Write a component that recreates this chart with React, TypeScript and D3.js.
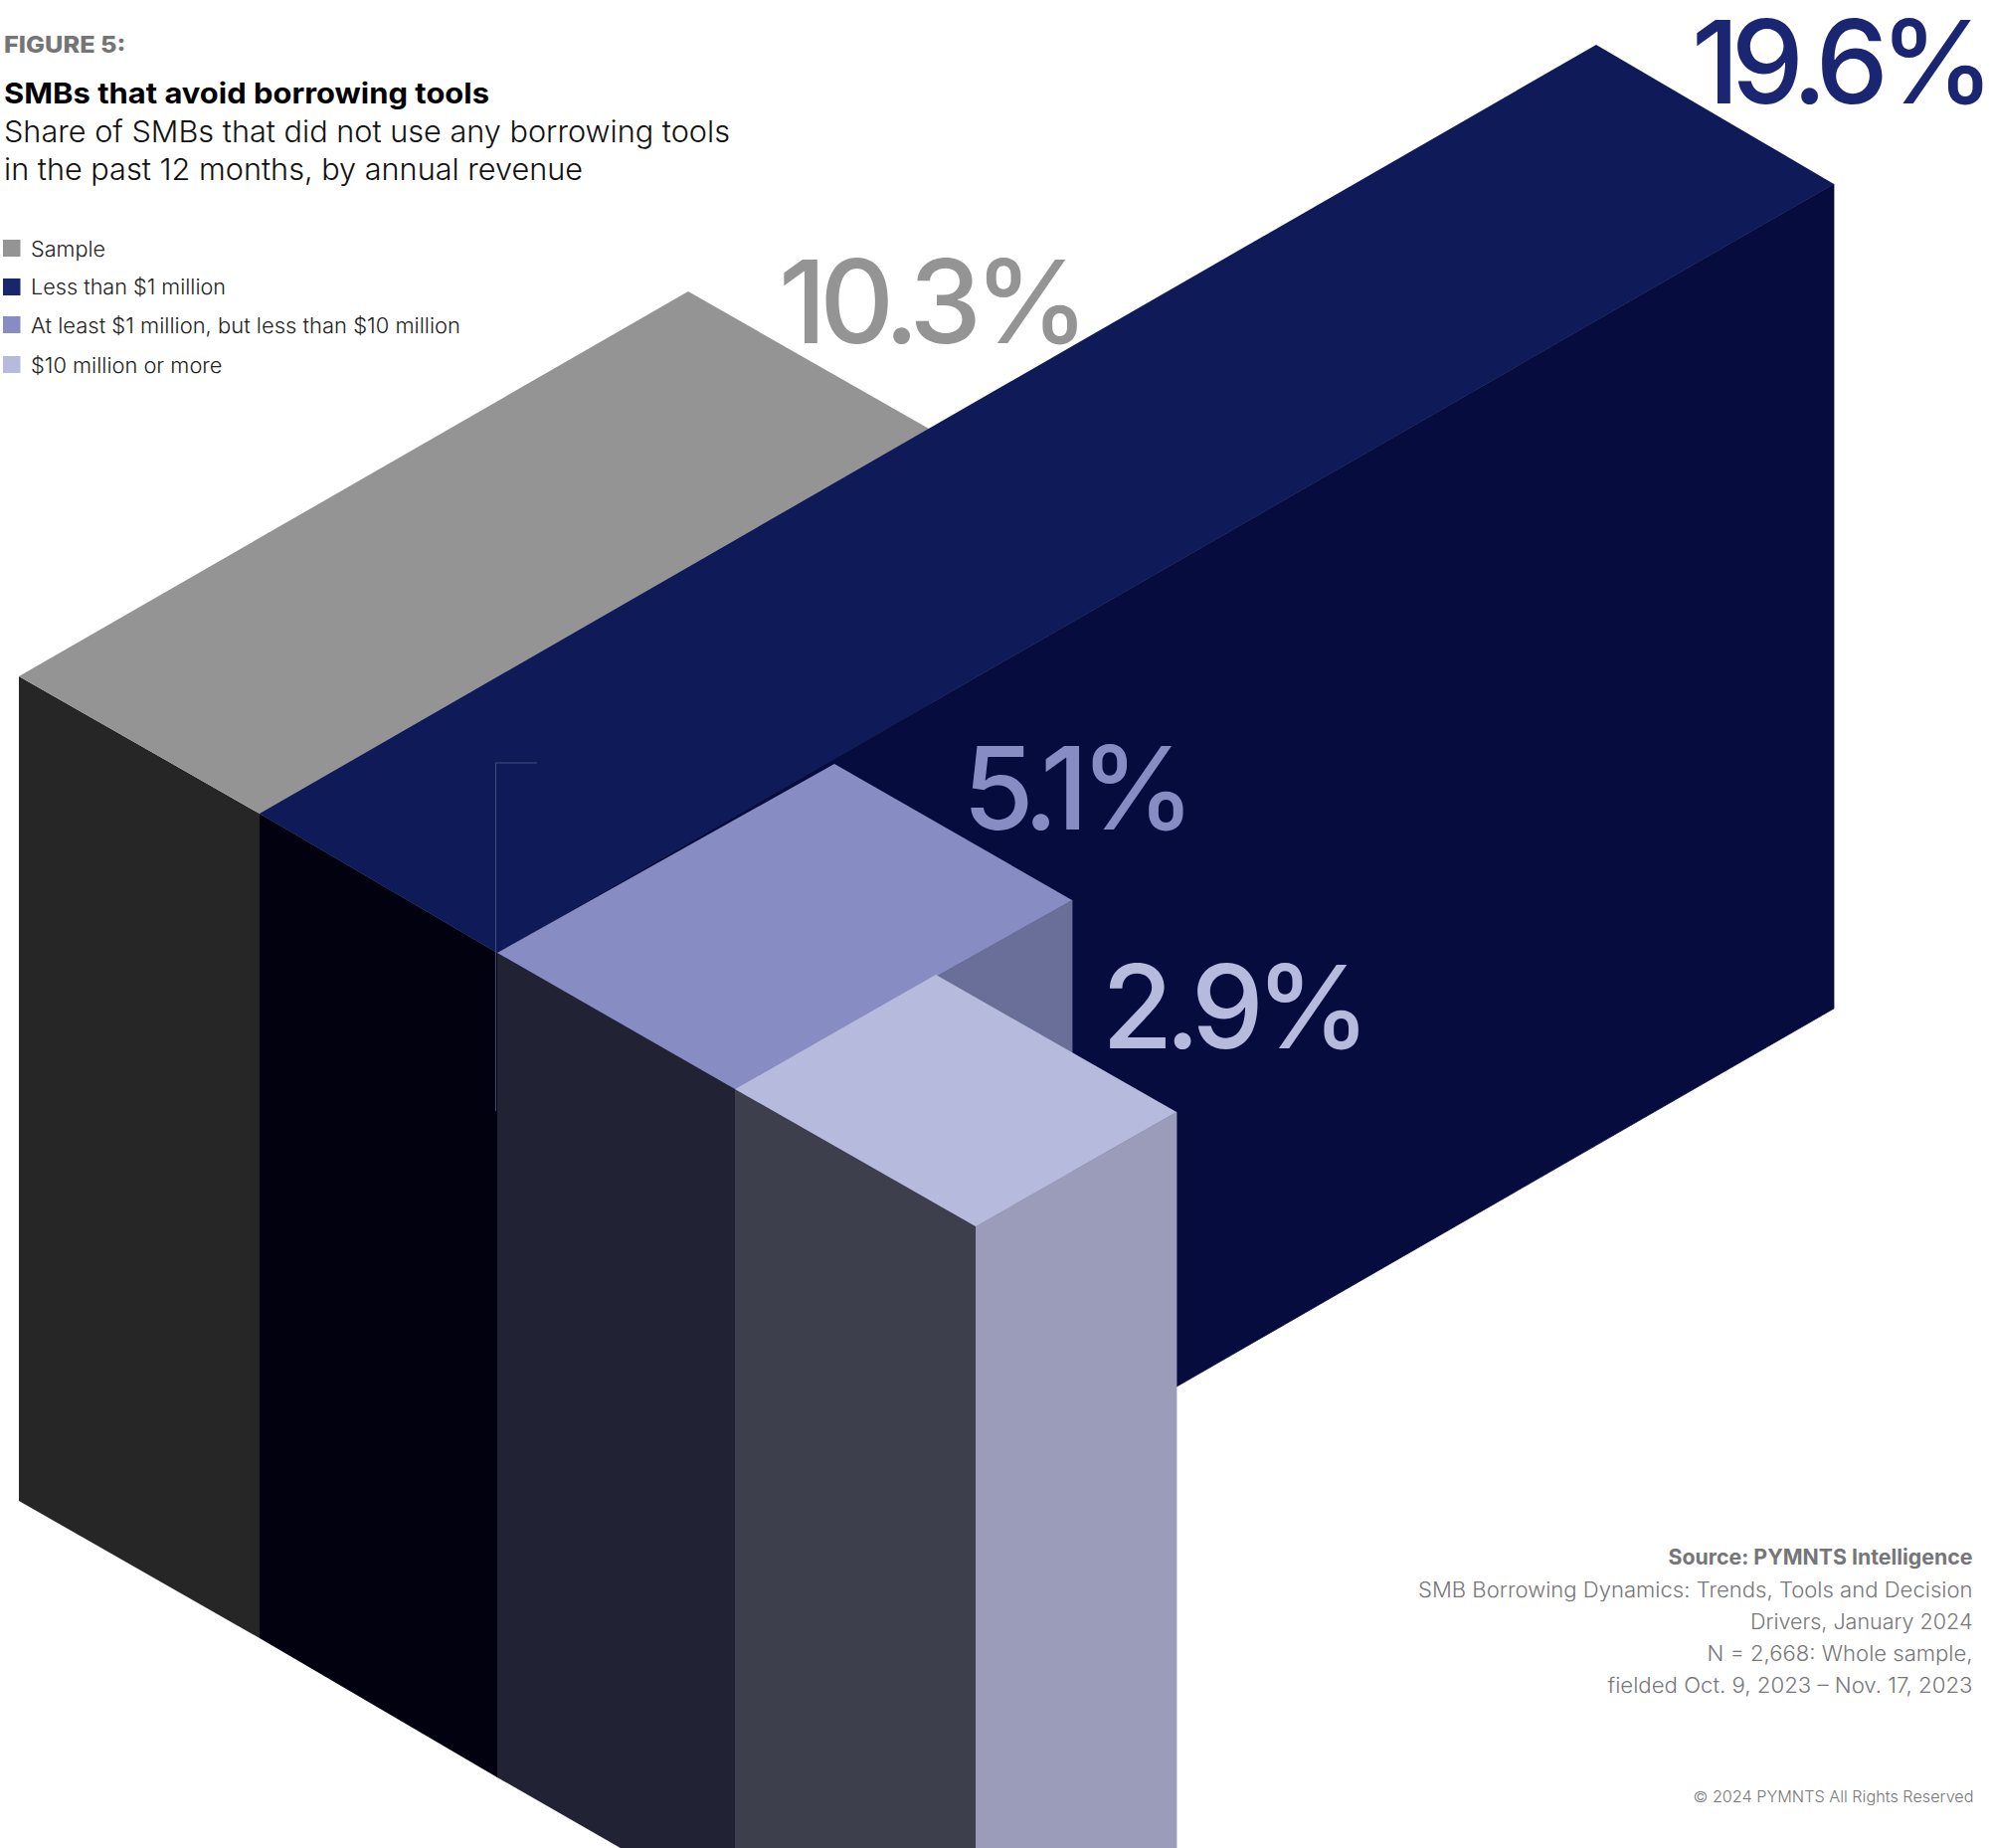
import React from "react";
import * as d3 from "d3";

// Revenue bands and the share of SMBs in each that used no borrowing tools.
const categories = [
  "Sample",
  "Less than $1 million",
  "At least $1 million, but less than $10 million",
  "$10 million or more",
];
const shares = [10.3, 19.6, 5.1, 2.9];

const figureLabel = "FIGURE 5:";
const titleLine = "SMBs that avoid borrowing tools";
const subtitleLines = [
  "Share of SMBs that did not use any borrowing tools",
  "in the past 12 months, by annual revenue",
];
const sourceHeading = "Source: PYMNTS Intelligence";
const sourceLines = [
  "SMB Borrowing Dynamics: Trends, Tools and Decision",
  "Drivers, January 2024",
  "N = 2,668: Whole sample,",
  "fielded Oct. 9, 2023 – Nov. 17, 2023",
];
const copyrightLine = "© 2024 PYMNTS All Rights Reserved";

// Face shades of each block, in category order.
const topShades = ["#949494", "#0f1a58", "#878dc2", "#b6bbdd"];
const leftShades = ["#262626", "#01010f", "#212334", "#3e3f4c"];
const rightShades = ["#8a8a8a", "#060c3e", "#6a6f99", "#9a9cba"];
const keyShades = ["#949494", "#1a2570", "#878dc2", "#b6bbdd"];
const labelShades = ["#949494", "#1b2672", "#878dc2", "#b6bbdd"];

const WIDTH = 2003;
const HEIGHT = 1858;
const SANS = "Inter, 'Noto Sans', sans-serif";

// Oblique projection: blocks step down-right along the category axis,
// run up-right along the value axis, and drop straight down by a fixed extrusion.
const slots = [0, 1, 2, 3, 4];
const slotX = d3.scaleLinear().domain(slots).range([19, 261, 500, 739, 981]);
const slotY = d3.scaleLinear().domain(slots).range([680, 818, 958, 1095, 1233]);
const runX = d3.scaleLinear().domain([0, 2.9, 5.1, 10.3, 19.6]).range([0, 202, 339, 673, 1344]);
const runY = d3.scaleLinear().domain([0, 2.9, 5.1, 10.3, 19.6]).range([0, 115, 190, 387, 773]);
const EXTRUSION = 829;

const polygon = d3.line<[number, number]>().curve(d3.curveLinearClosed);

function blockFaces(i: number) {
  const value = shares[i];
  const frontLeft: [number, number] = [slotX(i), slotY(i)];
  const frontRight: [number, number] = [slotX(i + 1), slotY(i + 1)];
  const backLeft: [number, number] = [frontLeft[0] + runX(value), frontLeft[1] - runY(value)];
  const backRight: [number, number] = [frontRight[0] + runX(value), frontRight[1] - runY(value)];
  const drop = (p: [number, number]): [number, number] => [p[0], p[1] + EXTRUSION];
  return {
    top: polygon([frontLeft, backLeft, backRight, frontRight]),
    left: polygon([frontLeft, frontRight, drop(frontRight), drop(frontLeft)]),
    right: polygon([frontRight, backRight, drop(backRight), drop(frontRight)]),
  };
}

// Left edge, baseline and tracking of each large value label.
const valueLabelAnchors = [
  { x: 783, y: 345, tracking: -7 },
  { x: 1701, y: 104, tracking: -8.5 },
  { x: 968, y: 834, tracking: -7.8 },
  { x: 1108, y: 1054, tracking: -8 },
];
const formatShare = (v: number) => `${d3.format(".1f")(v)}%`;

const legendRows = [
  { y: 241, baseline: 257.5, end: 106 },
  { y: 280, baseline: 296, end: 227 },
  { y: 318, baseline: 334.5, end: 463 },
  { y: 358, baseline: 375, end: 223.5 },
];

const sourceBaselines = [1606, 1638, 1670, 1702];
const sourceStarts = [1426, 1760, 1716.5, 1616.5];

export default function App() {
  return (
    <svg
      width={WIDTH}
      height={HEIGHT}
      viewBox={`0 0 ${WIDTH} ${HEIGHT}`}
      style={{ position: "absolute", left: 0, top: 0, display: "block", background: "#fff" }}
    >
      {/* Blocks, painted back to front; side faces carry a hair of stroke to close seams */}
      {categories.map((name, i) => {
        const faces = blockFaces(i);
        return (
          <g key={name}>
            <path d={faces.right!} fill={rightShades[i]} stroke={rightShades[i]} strokeWidth={0.8} />
            <path d={faces.left!} fill={leftShades[i]} />
            <path d={faces.top!} fill={topShades[i]} />
          </g>
        );
      })}

      {/* Hairline left on the navy block */}
      <path
        d={`M${slotX(2) - 1.5},1117V767H540`}
        fill="none"
        stroke="#454c80"
        strokeWidth={1}
      />

      {/* Value labels */}
      {shares.map((v, i) => (
        <text
          key={categories[i]}
          x={valueLabelAnchors[i].x}
          y={valueLabelAnchors[i].y}
          fontFamily={SANS}
          fontSize={116}
          fontWeight={530}
          letterSpacing={valueLabelAnchors[i].tracking}
          fill={labelShades[i]}
        >
          {formatShare(v)}
        </text>
      ))}

      {/* Heading */}
      <text x={4} y={53} textLength={122.5} lengthAdjust="spacingAndGlyphs" fontFamily={SANS} fontSize={23} fontWeight={800} fill="#757575">
        {figureLabel}
      </text>
      <text x={4} y={104} textLength={488} lengthAdjust="spacingAndGlyphs" fontFamily={SANS} fontSize={29} fontWeight={700} fill="#000">
        {titleLine}
      </text>
      {subtitleLines.map((line, i) => (
        <text
          key={line}
          x={4}
          y={142.5 + i * 38}
          textLength={i === 0 ? 730 : 582}
          lengthAdjust="spacingAndGlyphs"
          fontFamily={SANS}
          fontSize={30}
          fontWeight={300}
          fill="#111"
        >
          {line}
        </text>
      ))}

      {/* Legend */}
      {categories.map((name, i) => (
        <g key={name}>
          <rect x={3} y={legendRows[i].y} width={17.5} height={17} fill={keyShades[i]} />
          <text
            x={31}
            y={legendRows[i].baseline}
            textLength={legendRows[i].end - 31}
            lengthAdjust="spacingAndGlyphs"
            fontFamily={SANS}
            fontSize={21}
            fontWeight={300}
            fill="#222"
          >
            {name}
          </text>
        </g>
      ))}

      {/* Source and copyright */}
      <text x={1677.5} y={1573} textLength={306} lengthAdjust="spacingAndGlyphs" fontFamily={SANS} fontSize={21} fontWeight={700} fill="#767678">
        {sourceHeading}
      </text>
      {sourceLines.map((line, i) => (
        <text
          key={line}
          x={sourceStarts[i]}
          y={sourceBaselines[i]}
          textLength={1983.5 - sourceStarts[i]}
          lengthAdjust="spacingAndGlyphs"
          fontFamily={SANS}
          fontSize={21}
          fontWeight={300}
          fill="#77777a"
        >
          {line}
        </text>
      ))}
      <text x={1702.5} y={1811.5} textLength={282} lengthAdjust="spacingAndGlyphs" fontFamily={SANS} fontSize={15.5} fontWeight={300} fill="#77777a">
        {copyrightLine}
      </text>
    </svg>
  );
}
